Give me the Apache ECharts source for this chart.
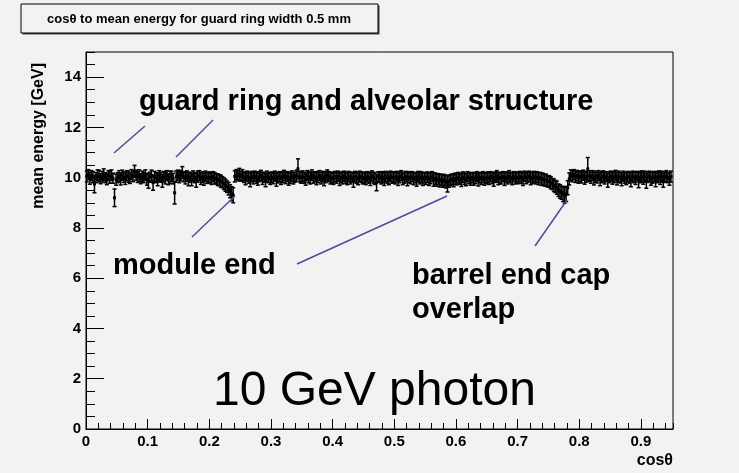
<!DOCTYPE html>
<html>
<head>
<meta charset="utf-8">
<title>cosθ to mean energy</title>
<script src="https://cdn.jsdelivr.net/npm/echarts@6/dist/echarts.min.js"></script>
<style>
  html, body { margin: 0; padding: 0; background: #f2f2f2; }
  #chart { width: 739px; height: 473px; }
</style>
</head>
<body>
<div id="chart"></div>
<script>
// Profile of mean reconstructed energy versus cos(theta), 10 GeV photons.
// Uniform bins of width BIN_WIDTH starting at BIN_START.
const BIN_START = 0;
const BIN_WIDTH = 0.0025;

const meanEnergy = [
  10.05, 10.12, 9.98, 10.08, 10.02, 9.75, 10.00, 10.10, 10.06, 9.96,
  10.04, 10.12, 10.00, 9.94, 10.08, 10.02, 10.10, 9.98, 9.20, 9.92,
  10.00, 10.06, 9.95, 10.10, 10.02, 9.96, 10.08, 10.04, 9.98, 10.12,
  10.06, 10.25, 10.10, 10.02, 10.08, 9.96, 10.04, 10.00, 10.10, 9.94,
  9.86, 10.02, 10.08, 9.80, 10.04, 10.00, 9.92, 10.06, 10.02, 9.88,
  10.04, 9.98, 10.08, 9.94, 10.02, 10.06, 9.96, 9.40, 10.04, 10.10,
  10.02, 10.08, 10.20, 10.04, 9.98, 10.06, 9.94, 10.02, 9.92, 10.06,
  10.00, 9.90, 10.04, 10.08, 9.96, 10.02, 9.94, 10.06, 10.00, 9.98,
  10.02, 9.96, 10.04, 9.98, 9.95, 9.92, 9.90, 9.86, 9.82, 9.76,
  9.70, 9.64, 9.56, 9.46, 9.36, 9.30, 10.05, 10.12, 10.08, 10.14,
  10.06, 10.10, 10.02, 9.96, 10.06, 10.00, 9.92, 10.04, 9.98, 10.06,
  10.00, 9.94, 10.04, 10.08, 9.96, 10.02, 9.90, 10.04, 10.00, 9.96,
  10.02, 9.98, 10.06, 9.92, 10.00, 10.04, 9.96, 10.02, 10.08, 9.98,
  10.04, 9.94, 10.00, 10.06, 9.98, 10.02, 10.08, 10.35, 10.04, 10.00,
  10.06, 10.00, 9.94, 10.08, 10.02, 9.98, 10.10, 10.00, 10.04, 9.96,
  10.02, 10.08, 9.98, 10.04, 9.94, 10.02, 10.10, 10.04, 9.98, 10.00,
  9.96, 10.04, 10.00, 10.06, 9.94, 10.02, 9.98, 10.06, 10.00, 9.96,
  10.04, 9.98, 10.02, 9.90, 10.04, 10.00, 9.96, 10.06, 10.02, 9.98,
  10.00, 9.96, 10.04, 10.00, 9.94, 10.06, 10.00, 9.96, 9.80, 10.02,
  10.04, 9.98, 10.02, 9.94, 10.04, 10.00, 9.96, 10.06, 10.00, 10.02,
  9.98, 10.04, 9.94, 10.02, 10.08, 9.96, 10.00, 10.04, 9.94, 10.02,
  9.98, 10.04, 9.96, 10.00, 9.92, 10.04, 9.98, 10.02, 9.94, 10.00,
  9.96, 10.02, 9.94, 9.98, 10.04, 9.92, 9.96, 9.90, 9.94, 9.88,
  9.92, 9.86, 9.90, 9.84, 9.75, 9.86, 9.90, 9.94, 9.88, 9.96,
  9.94, 10.00, 9.96, 9.90, 10.02, 9.96, 9.92, 10.04, 9.98, 9.94,
  10.00, 9.94, 9.98, 10.04, 9.92, 10.00, 9.96, 10.02, 9.94, 9.98,
  10.02, 9.96, 10.04, 9.98, 9.92, 10.02, 10.06, 9.96, 10.00, 9.98,
  10.04, 9.94, 10.02, 9.98, 10.06, 10.00, 9.96, 10.04, 9.98, 10.02,
  9.98, 10.04, 10.00, 9.94, 10.06, 9.98, 10.02, 10.06, 9.96, 10.00,
  10.04, 9.98, 10.02, 9.96, 10.00, 9.94, 9.95, 9.90, 9.90, 9.85,
  9.85, 9.80, 9.75, 9.70, 9.65, 9.60, 9.50, 9.45, 9.40, 9.35,
  9.30, 9.35, 9.60, 9.95, 10.10, 10.06, 10.12, 10.04, 10.08, 10.00,
  10.06, 10.02, 10.10, 9.98, 10.04, 10.35, 10.06, 10.00, 10.08, 9.96,
  10.04, 10.00, 10.08, 9.94, 10.02, 10.06, 9.98, 10.04, 9.90, 10.02,
  10.06, 9.98, 10.02, 10.08, 9.96, 10.04, 10.00, 9.94, 10.06, 10.00,
  9.96, 10.04, 10.00, 9.92, 10.06, 10.02, 9.98, 10.04, 9.90, 10.02,
  10.06, 9.98, 10.04, 9.88, 10.02, 10.06, 9.96, 10.00, 10.04, 9.92,
  10.02, 10.06, 9.98, 10.04, 9.90, 10.02, 10.06, 10.00, 9.96, 10.04
];

const meanError = [
  0.22, 0.20, 0.24, 0.20, 0.22, 0.35, 0.20, 0.21, 0.23, 0.20,
  0.21, 0.23, 0.20, 0.22, 0.20, 0.24, 0.21, 0.20, 0.35, 0.22,
  0.20, 0.22, 0.24, 0.20, 0.21, 0.23, 0.20, 0.22, 0.21, 0.20,
  0.22, 0.24, 0.20, 0.21, 0.23, 0.20, 0.22, 0.20, 0.21, 0.24,
  0.28, 0.20, 0.22, 0.30, 0.21, 0.20, 0.24, 0.22, 0.20, 0.26,
  0.21, 0.23, 0.20, 0.22, 0.24, 0.20, 0.21, 0.45, 0.22, 0.20,
  0.22, 0.21, 0.24, 0.20, 0.23, 0.21, 0.26, 0.20, 0.24, 0.21,
  0.20, 0.28, 0.22, 0.20, 0.23, 0.21, 0.24, 0.20, 0.22, 0.21,
  0.21, 0.23, 0.20, 0.22, 0.21, 0.23, 0.22, 0.24, 0.22, 0.23,
  0.24, 0.23, 0.25, 0.26, 0.28, 0.30, 0.22, 0.20, 0.21, 0.23,
  0.20, 0.22, 0.21, 0.24, 0.20, 0.22, 0.28, 0.21, 0.23, 0.20,
  0.22, 0.24, 0.20, 0.21, 0.23, 0.20, 0.26, 0.22, 0.20, 0.23,
  0.21, 0.22, 0.20, 0.26, 0.21, 0.20, 0.23, 0.22, 0.21, 0.22,
  0.20, 0.24, 0.22, 0.21, 0.23, 0.20, 0.22, 0.40, 0.21, 0.22,
  0.21, 0.22, 0.24, 0.20, 0.22, 0.23, 0.21, 0.22, 0.20, 0.24,
  0.22, 0.20, 0.23, 0.21, 0.26, 0.22, 0.21, 0.20, 0.23, 0.22,
  0.23, 0.21, 0.22, 0.20, 0.25, 0.21, 0.23, 0.20, 0.22, 0.24,
  0.21, 0.23, 0.20, 0.28, 0.21, 0.22, 0.24, 0.20, 0.21, 0.23,
  0.22, 0.24, 0.20, 0.22, 0.25, 0.21, 0.22, 0.23, 0.32, 0.21,
  0.20, 0.23, 0.22, 0.25, 0.21, 0.22, 0.24, 0.20, 0.22, 0.21,
  0.23, 0.21, 0.25, 0.22, 0.20, 0.24, 0.22, 0.21, 0.26, 0.22,
  0.22, 0.20, 0.24, 0.21, 0.26, 0.21, 0.23, 0.22, 0.25, 0.21,
  0.23, 0.21, 0.25, 0.22, 0.20, 0.26, 0.23, 0.24, 0.22, 0.25,
  0.22, 0.24, 0.23, 0.25, 0.32, 0.24, 0.22, 0.21, 0.24, 0.22,
  0.23, 0.21, 0.22, 0.25, 0.21, 0.23, 0.24, 0.20, 0.22, 0.24,
  0.21, 0.24, 0.22, 0.20, 0.25, 0.21, 0.23, 0.22, 0.24, 0.22,
  0.21, 0.23, 0.20, 0.22, 0.26, 0.21, 0.22, 0.24, 0.21, 0.23,
  0.20, 0.25, 0.21, 0.23, 0.22, 0.21, 0.24, 0.20, 0.23, 0.21,
  0.22, 0.21, 0.23, 0.25, 0.20, 0.22, 0.21, 0.20, 0.24, 0.22,
  0.21, 0.23, 0.22, 0.24, 0.21, 0.25, 0.22, 0.23, 0.24, 0.22,
  0.23, 0.24, 0.22, 0.25, 0.24, 0.26, 0.25, 0.27, 0.26, 0.30,
  0.32, 0.30, 0.28, 0.24, 0.21, 0.22, 0.20, 0.23, 0.21, 0.22,
  0.21, 0.23, 0.20, 0.24, 0.22, 0.45, 0.21, 0.22, 0.20, 0.25,
  0.22, 0.21, 0.20, 0.26, 0.22, 0.21, 0.23, 0.20, 0.28, 0.22,
  0.20, 0.24, 0.22, 0.21, 0.25, 0.22, 0.21, 0.26, 0.20, 0.22,
  0.24, 0.21, 0.22, 0.28, 0.20, 0.22, 0.25, 0.21, 0.30, 0.22,
  0.21, 0.24, 0.22, 0.30, 0.21, 0.20, 0.26, 0.22, 0.21, 0.28,
  0.22, 0.21, 0.25, 0.22, 0.28, 0.21, 0.22, 0.20, 0.26, 0.22
];

// Axis ranges and tick steps
const X_RANGE = [0, 0.952];
const X_MAJOR = 0.1;
const X_MINOR = 0.02;
const Y_RANGE = [0, 15];
const Y_MAJOR = 2;
const Y_MINOR = 0.5;

const titleText = 'cosθ to mean energy for guard ring width 0.5 mm';
const xAxisTitle = 'cosθ';
const yAxisTitle = 'mean energy [GeV]';
const annotations = {
  guard: 'guard ring and alveolar structure',
  module: 'module end',
  barrel1: 'barrel end cap',
  barrel2: 'overlap',
  beam: '10 GeV photon'
};

const FONT = 'Liberation Sans, Arial, Helvetica, sans-serif';
const ARROW = '#4c4c98';

const points = meanEnergy.map((v, i) => [
  +(BIN_START + BIN_WIDTH * (i + 0.5)).toFixed(5), v, meanError[i]
]);

// One profile bin: vertical error bar with end caps, bin-width bar and a square marker
function renderErrorPoint(params, api) {
  const x = api.value(0), y = api.value(1), e = api.value(2);
  const c = api.coord([x, y]);
  const hi = api.coord([x, y + e]);
  const lo = api.coord([x, y - e]);
  const hw = api.size([BIN_WIDTH, 0])[0] / 2;
  const cap = 2;
  const st = { stroke: '#000', lineWidth: 1.5 };
  return {
    type: 'group',
    children: [
      { type: 'line', shape: { x1: c[0], y1: lo[1], x2: c[0], y2: hi[1] }, style: st },
      { type: 'line', shape: { x1: c[0] - hw, y1: c[1], x2: c[0] + hw, y2: c[1] }, style: st },
      { type: 'line', shape: { x1: c[0] - cap, y1: hi[1], x2: c[0] + cap, y2: hi[1] }, style: st },
      { type: 'line', shape: { x1: c[0] - cap, y1: lo[1], x2: c[0] + cap, y2: lo[1] }, style: st },
      { type: 'rect', shape: { x: c[0] - 1.5, y: c[1] - 1.5, width: 3, height: 3 }, style: { fill: '#000' } }
    ]
  };
}

const labelStyle = { color: '#000', fontFamily: FONT, fontWeight: 'bold', fontSize: 15 };

const chart = echarts.init(document.getElementById('chart'), null, { renderer: 'canvas' });
chart.setOption({
  backgroundColor: '#f2f2f2',
  animation: false,
  grid: {
    left: 86, right: 66, top: 52, bottom: 44,
    show: true, borderColor: '#000', borderWidth: 1, backgroundColor: 'transparent'
  },
  xAxis: [
    {
      type: 'value', min: X_RANGE[0], max: X_RANGE[1], interval: X_MAJOR, position: 'bottom',
      axisLine: { show: true, lineStyle: { color: '#000', width: 1 } },
      axisTick: { show: true, inside: true, length: 10, lineStyle: { color: '#000' } },
      axisLabel: Object.assign({ margin: 5, showMaxLabel: false,
        formatter: v => (v === 0 ? '0' : v.toFixed(1)) }, labelStyle),
      splitLine: { show: false }
    },
    {
      type: 'value', min: X_RANGE[0], max: X_RANGE[1], interval: X_MINOR, position: 'bottom',
      axisLine: { show: false },
      axisTick: { show: true, inside: true, length: 6, lineStyle: { color: '#000' } },
      axisLabel: { show: false },
      splitLine: { show: false }
    }
  ],
  yAxis: [
    {
      type: 'value', min: Y_RANGE[0], max: Y_RANGE[1], interval: Y_MAJOR, position: 'left',
      axisLine: { show: true, lineStyle: { color: '#000', width: 1 } },
      axisTick: { show: true, inside: true, length: 18, lineStyle: { color: '#000' } },
      axisLabel: Object.assign({ margin: 5, showMaxLabel: false }, labelStyle),
      splitLine: { show: false }
    },
    {
      type: 'value', min: Y_RANGE[0], max: Y_RANGE[1], interval: Y_MINOR, position: 'left',
      axisLine: { show: false },
      axisTick: { show: true, inside: true, length: 9, lineStyle: { color: '#000' } },
      axisLabel: { show: false },
      splitLine: { show: false }
    }
  ],
  series: [{
    type: 'custom',
    xAxisIndex: 0,
    yAxisIndex: 0,
    renderItem: renderErrorPoint,
    encode: { x: 0, y: 1 },
    data: points,
    z: 5
  }],
  graphic: [
    // title box with drop shadow
    { type: 'rect', shape: { x: 22.5, y: 5.5, width: 357, height: 29 }, style: { fill: '#444' }, z: 10 },
    { type: 'rect', shape: { x: 21, y: 4, width: 357, height: 29 },
      style: { fill: '#f2f2f2', stroke: '#000', lineWidth: 1 }, z: 11 },
    { type: 'text', x: 199, y: 19, z: 12,
      style: { text: titleText, font: 'bold 13px ' + FONT, fill: '#000', align: 'center', verticalAlign: 'middle' } },
    // axis titles
    { type: 'text', x: 39, y: 63, rotation: Math.PI / 2, z: 12,
      style: { text: yAxisTitle, font: 'bold 16px ' + FONT, fill: '#000', align: 'right', verticalAlign: 'middle' } },
    { type: 'text', x: 673, y: 461, z: 12,
      style: { text: xAxisTitle, font: 'bold 16px ' + FONT, fill: '#000', align: 'right', verticalAlign: 'middle' } },
    // annotation texts
    { type: 'text', x: 139, y: 102, z: 12,
      style: { text: annotations.guard, font: 'bold 29px ' + FONT, fill: '#000', align: 'left', verticalAlign: 'middle' } },
    { type: 'text', x: 113, y: 266, z: 12,
      style: { text: annotations.module, font: 'bold 29px ' + FONT, fill: '#000', align: 'left', verticalAlign: 'middle' } },
    { type: 'text', x: 412, y: 276, z: 12,
      style: { text: annotations.barrel1, font: 'bold 29px ' + FONT, fill: '#000', align: 'left', verticalAlign: 'middle' } },
    { type: 'text', x: 412, y: 310, z: 12,
      style: { text: annotations.barrel2, font: 'bold 29px ' + FONT, fill: '#000', align: 'left', verticalAlign: 'middle' } },
    { type: 'text', x: 213, y: 392, z: 12,
      style: { text: annotations.beam, font: '48px ' + FONT, fill: '#000', align: 'left', verticalAlign: 'middle' } },
    // pointer lines
    { type: 'line', z: 12, shape: { x1: 114, y1: 153, x2: 145, y2: 126 }, style: { stroke: ARROW, lineWidth: 1.5 } },
    { type: 'line', z: 12, shape: { x1: 176, y1: 157, x2: 213, y2: 120 }, style: { stroke: ARROW, lineWidth: 1.5 } },
    { type: 'line', z: 12, shape: { x1: 192, y1: 237, x2: 235, y2: 196 }, style: { stroke: ARROW, lineWidth: 1.5 } },
    { type: 'line', z: 12, shape: { x1: 297, y1: 264, x2: 447, y2: 196 }, style: { stroke: ARROW, lineWidth: 1.5 } },
    { type: 'line', z: 12, shape: { x1: 535, y1: 246, x2: 567, y2: 200 }, style: { stroke: ARROW, lineWidth: 1.5 } }
  ]
});
</script>
</body>
</html>
